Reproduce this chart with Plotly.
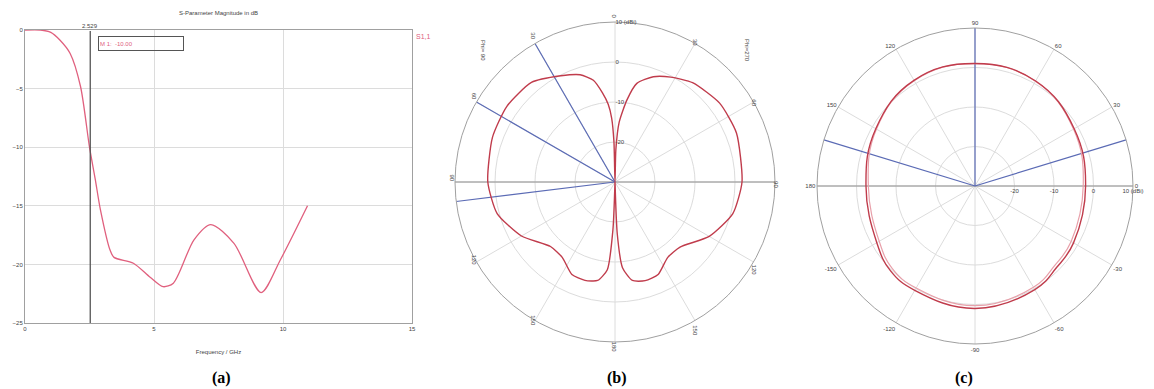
import plotly.graph_objects as go

# ---- (a) S-parameter magnitude ----
freq_ghz = [0, 0.6, 1.0, 1.35, 1.75, 2.15, 2.5, 2.72, 2.92, 3.3, 3.45, 4.2, 4.85,
            5.35, 5.75, 6.55, 7.2, 8.1, 9.15, 9.9, 10.95]
s11_db = [0, 0, -0.2, -0.85, -2.0, -4.8, -10.0, -12.7, -15.3, -18.8, -19.4, -19.9,
          -21.1, -21.9, -21.6, -17.9, -16.6, -18.2, -22.4, -19.6, -15.0]
marker_freq = 2.529
marker_text = "M 1:  -10.00"
freq_ticks = [0, 5, 10, 15]
db_ticks = [0, -5, -10, -15, -20, -25]

# ---- (b) elevation pattern, theta measured from the top ----
theta_left = [0, 1.5, 3, 5, 8, 12, 18, 27, 40, 55, 70, 90, 105, 120, 135, 145,
              155, 163, 170, 175, 177.5, 180]
gain_left = [-30, -20, -14, -10.5, -7.5, -4, -1.8, -0.2, 2.5, 3.0, 2.6, 1.8, 0.5,
             -3.0, -7.2, -7.0, -4.5, -4.3, -5.0, -8.0, -18, -30]
theta_right = [180, 177.5, 175, 170, 163, 155, 145, 135, 120, 105, 90, 68, 53,
               38, 28, 20, 12.5, 8.3, 4, 1.5, 0]
gain_right = [-30, -17, -8.5, -5.0, -4.2, -4.5, -7.0, -7.0, -2.8, 0.5, 1.75, 2.75,
              2.75, 1.5, -0.3, -2.0, -4.75, -9.25, -15, -22, -30]
lines_b = [30, 60, 97]
angle_ticks_b = [0, 30, 60, 90, 120, 150, 180, 210, 240, 270, 300, 330]
angle_text_b = ["0", "30", "60", "90", "120", "150", "180", "150", "120", "90", "60", "30"]

# ---- (c) azimuth pattern ----
phi_c = [0, 30, 60, 90, 120, 150, 180, 210, 225, 240, 270, 300, 315, 330, 360]
gain_c1 = [-2.0, -1.0, 0.7, 1.0, 0.9, -1.0, -2.4, -1.3, 0.3, 0.5, 1.0, 0.3, -0.8, -1.2, -2.0]
gain_c2 = [-2.6, -1.2, 0.6, 1.0, 0.8, -1.2, -3.0, -2.0, -0.4, -0.2, 0.3, -0.4, -1.5, -1.9, -2.6]
lines_c = [17, 90, 163]
angle_ticks_c = [0, 30, 60, 90, 120, 150, 180, 210, 240, 270, 300, 330]
angle_text_c = ["0", "30", "60", "90", "120", "150", "180", "-150", "-120", "-90", "-60", "-30"]

ring_vals = [-20, -10, 0, 10]
ring_text = ["-20", "-10", "0", "10 (dBi)"]
r_range = [-30, 10]

GRID = "#dcdcdc"
FRAME = "#a0a0a0"
AXIS = "#909090"
TXT = "#444444"
PINK = "#e0607e"
RED = "#c03c4c"
LIGHT_RED = "#e8a0aa"
BLUE = "#5b6bb5"
SMALL = dict(family="Liberation Sans", size=6, color=TXT)

W, H = 1154, 389
OFF = 8  # page body margin shifts the figure by 8px


def px_x(x):
    return (x - OFF) / W


def px_y(y):
    return 1 - (y - OFF) / H


fig = go.Figure()

fig.add_trace(go.Scatter(x=freq_ghz, y=s11_db, mode="lines",
                         line=dict(color=PINK, width=1.3, shape="spline", smoothing=0.8),
                         name="S1,1"))
fig.add_shape(type="line", xref="x", yref="paper", x0=marker_freq, x1=marker_freq,
              y0=px_y(323), y1=px_y(31), line=dict(color="#555555", width=1.3))

# polar (b): gray axes, blue direction lines, pattern
fig.add_trace(go.Scatterpolar(r=[10, -30, 10], theta=[90, 90, 270], mode="lines",
                              line=dict(color=AXIS, width=1), subplot="polar"))
for t in lines_b:
    fig.add_trace(go.Scatterpolar(r=[-30, 10], theta=[t, t], mode="lines",
                                  line=dict(color=BLUE, width=1.2), subplot="polar"))
theta_b = theta_left + [360 - t for t in theta_right]
gain_b = gain_left + gain_right
fig.add_trace(go.Scatterpolar(r=gain_b, theta=theta_b, mode="lines",
                              line=dict(color=RED, width=1.4, shape="spline", smoothing=0.6),
                              subplot="polar"))

# polar (c)
fig.add_trace(go.Scatterpolar(r=[10, -30, 10], theta=[0, 0, 180], mode="lines",
                              line=dict(color=AXIS, width=1), subplot="polar2"))
for t in lines_c:
    fig.add_trace(go.Scatterpolar(r=[-30, 10], theta=[t, t], mode="lines",
                                  line=dict(color=BLUE, width=1.2), subplot="polar2"))
fig.add_trace(go.Scatterpolar(r=gain_c2, theta=phi_c, mode="lines",
                              line=dict(color=LIGHT_RED, width=1.2, shape="spline", smoothing=1.2),
                              subplot="polar2"))
fig.add_trace(go.Scatterpolar(r=gain_c1, theta=phi_c, mode="lines",
                              line=dict(color=RED, width=1.4, shape="spline", smoothing=1.2),
                              subplot="polar2"))

polar_common = dict(
    bgcolor="white",
    radialaxis=dict(range=r_range, tickvals=ring_vals, ticktext=ring_text, showline=False,
                    gridcolor=GRID, gridwidth=1, tickfont=SMALL, ticks=""),
    angularaxis=dict(tickvals=angle_ticks_c, showline=True, linecolor=FRAME, linewidth=1,
                     gridcolor=GRID, gridwidth=1, tickfont=SMALL, ticks=""),
)

fig.update_layout(
    width=W, height=H, margin=dict(l=0, r=0, t=0, b=0, autoexpand=False),
    paper_bgcolor="white", plot_bgcolor="white", showlegend=False,
    xaxis=dict(domain=[px_x(25), px_x(412)], range=[0, 15], tickvals=freq_ticks, automargin=False,
               showgrid=True, gridcolor=GRID, showline=True, linecolor=FRAME, mirror=True,
               zeroline=False, ticks="", tickfont=SMALL,
               title=dict(text="Frequency / GHz", font=SMALL, standoff=18)),
    yaxis=dict(domain=[px_y(323), px_y(30)], range=[-25, 0], tickvals=db_ticks, automargin=False,
               showgrid=True, gridcolor=GRID, showline=True, linecolor=FRAME, mirror=True,
               zeroline=False, ticks="", tickfont=SMALL),
    polar=dict(domain=dict(x=[px_x(455), px_x(775)], y=[px_y(342), px_y(22)]), **polar_common),
    polar2=dict(domain=dict(x=[px_x(817), px_x(1133)], y=[px_y(344), px_y(28)]), **polar_common),
)
fig.update_layout(
    polar_angularaxis=dict(rotation=90, direction="counterclockwise",
                           ticktext=angle_text_b, tickangle=90),
    polar_radialaxis=dict(angle=90, tickangle=90),
    polar2_angularaxis=dict(rotation=0, direction="counterclockwise", ticktext=angle_text_c),
    polar2_radialaxis=dict(angle=0),
)

annotations = [
    dict(text="S-Parameter Magnitude in dB", xref="x domain", yref="paper", x=0.5, y=px_y(13),
         yanchor="middle", showarrow=False, font=SMALL),
    dict(text="S1,1", xref="x domain", yref="paper", x=1.005, y=px_y(36), xanchor="left",
         yanchor="middle", showarrow=False, font=dict(family="Liberation Sans", size=7, color=PINK)),
    dict(text=f"{marker_freq}", x=marker_freq, xref="x", yref="paper", y=px_y(26),
         yanchor="middle", showarrow=False, font=SMALL),
    dict(text=marker_text, x=2.84, y=-0.5, xref="x", yref="y", xanchor="left", yanchor="top",
         showarrow=False, width=82, height=11, align="left", bordercolor="#555555",
         borderwidth=1, font=dict(family="Liberation Sans", size=6, color=PINK)),
    dict(text="Phi= 90", xref="paper", yref="paper", x=px_x(483), y=px_y(50),
         yanchor="middle", textangle=90, showarrow=False, font=SMALL),
    dict(text="Phi=270", xref="paper", yref="paper", x=px_x(747), y=px_y(50),
         yanchor="middle", textangle=90, showarrow=False, font=SMALL),
]
for label, xpx in [("(a)", 210), ("(b)", 617), ("(c)", 975)]:
    annotations.append(dict(text=f"<b>{label}</b>", xref="paper", yref="paper",
                            x=px_x(xpx), y=px_y(378), yanchor="middle", showarrow=False,
                            font=dict(family="Liberation Serif", size=16, color="black")))
fig.update_layout(annotations=annotations)

fig.write_html("out.html")
